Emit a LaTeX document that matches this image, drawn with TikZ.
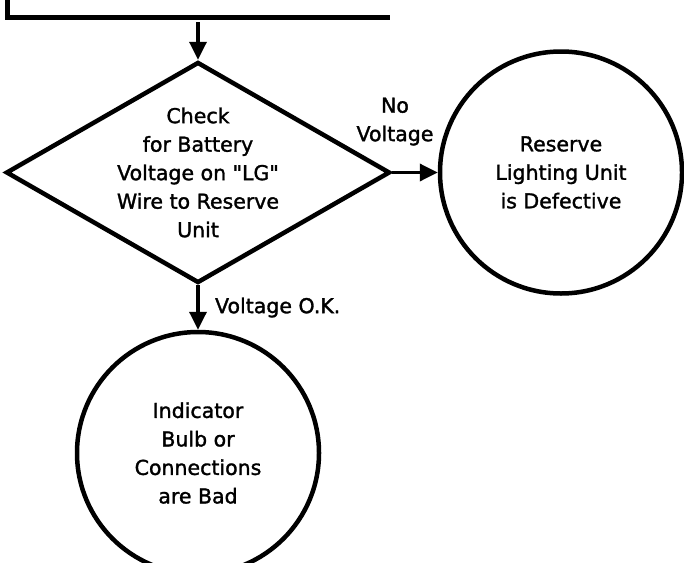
\documentclass[tikz,border=0pt]{standalone}
\usepackage{fontspec}
\setmainfont{DejaVu Sans}[FakeBold=1.5]
\usetikzlibrary{arrows.meta,shapes.geometric}

\begin{document}
\begin{tikzpicture}[
		x=1pt, y=-1pt,
		line/.style={line width=4.5pt},
		decision/.style={diamond, draw=black, line width=4.5pt, minimum width=384pt, minimum height=221pt, inner sep=0pt},
		result/.style={circle, draw=black, line width=4.5pt, minimum size=242pt, inner sep=0pt, align=center, font=\fontsize{20.5}{28.5}\selectfont},
		txt/.style={align=center, font=\fontsize{20.5}{28.5}\selectfont},
		arrow/.style={line width=3.5pt, -{Triangle[length=18pt, width=17pt]}}
		]
		\useasboundingbox (0,0) rectangle (684,562);
		
		\draw [line] (7.5,-5) -- (7.5,17.5) -- (390,17.5);
		\coordinate (boxout) at (198, 22);
		
		\node (check) at (198, 172.5) [decision] {};
		\node (checktext) at (check.center) [txt] {Check\\for Battery\\Voltage on \textquotedbl LG\textquotedbl\\Wire to Reserve\\Unit};
		\node (reserve) at (561, 172.5) [result] {Reserve\\Lighting Unit\\is Defective};
		\node (indicator) at (198, 453) [result] {Indicator\\Bulb or\\Connections\\are Bad};
		
		\draw [arrow] (boxout) -- (check.north);
		\draw [arrow] (check.east) -- (reserve.west) node[pos=0.06, above=22pt, txt] {No\\Voltage};
		\draw [arrow] (check.south) -- (indicator.north) node[midway, right=12pt, txt] {Voltage O.K.};
	\end{tikzpicture}
\end{document}
